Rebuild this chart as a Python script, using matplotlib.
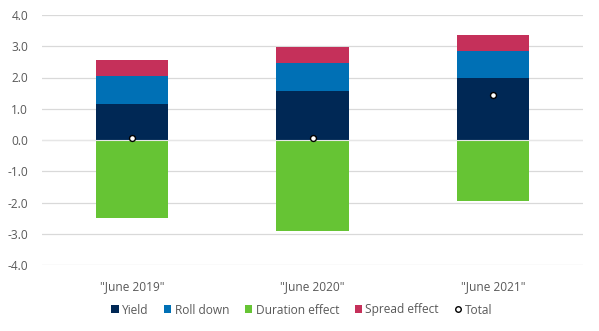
import matplotlib
matplotlib.use("Agg")
import matplotlib.pyplot as plt
from matplotlib.lines import Line2D
from matplotlib.patches import Patch
import numpy as np

plt.rcParams['font.family'] = ['Open Sans', 'DejaVu Sans']

categories = ['"June 2019"', '"June 2020"', '"June 2021"']
yield_vals = [1.15, 1.57, 1.98]
roll_down = [0.90, 0.89, 0.87]
spread_effect = [0.51, 0.52, 0.51]
duration_effect = [-2.50, -2.91, -1.95]
total = [0.05, 0.07, 1.43]

c_yield = '#002855'
c_roll = '#0070b5'
c_dur = '#66c434'
c_spread = '#c5305a'
text_c = '#595959'

fig = plt.figure(figsize=(5.99, 3.31), dpi=100)
ax = fig.add_axes([42/599, 1-265/331, (583-42)/599, (265-15)/331])

x = np.arange(len(categories))
w = 0.4
y = np.array(yield_vals)
r = np.array(roll_down)
s = np.array(spread_effect)
ax.bar(x, y, w, color=c_yield, zorder=2)
ax.bar(x, r, w, bottom=y, color=c_roll, zorder=2)
ax.bar(x, s, w, bottom=y + r, color=c_spread, zorder=2)
ax.bar(x, duration_effect, w, color=c_dur, zorder=2)
ax.axhline(0, color='#e6e6e6', linewidth=0.8, zorder=2.5)
ax.scatter(x, total, s=18, facecolor='white', edgecolor='black', linewidth=1.0, zorder=3)

ax.set_xlim(-0.5, 2.5)
ax.set_ylim(-4, 4)
ax.set_yticks(np.arange(-4, 4.01, 1))
ax.set_yticklabels([f'{v:.1f}' for v in np.arange(-4, 4.01, 1)])
ax.set_xticks(x)
ax.set_xticklabels(categories)
ax.grid(axis='y', color='#d9d9d9', linewidth=0.9, zorder=0)
for sp in ax.spines.values():
    sp.set_visible(False)
ax.tick_params(axis='both', length=0, colors=text_c, labelsize=8.6)
ax.tick_params(axis='x', pad=11)
ax.tick_params(axis='y', pad=10)

handles = [
    Patch(facecolor=c_yield, label='Yield'),
    Patch(facecolor=c_roll, label='Roll down'),
    Patch(facecolor=c_dur, label='Duration effect'),
    Patch(facecolor=c_spread, label='Spread effect'),
    Line2D([], [], marker='o', linestyle='none', markerfacecolor='white',
           markeredgecolor='black', markersize=4, label='Total'),
]
leg = fig.legend(handles=handles, loc='center', bbox_to_anchor=(302/599, 1-310/331),
                 ncol=5, frameon=False, fontsize=8.6, handlelength=0.6, handleheight=0.6,
                 handletextpad=0.3, columnspacing=1.3)
for t in leg.get_texts():
    t.set_color(text_c)

fig.savefig('out.png', dpi=100)
